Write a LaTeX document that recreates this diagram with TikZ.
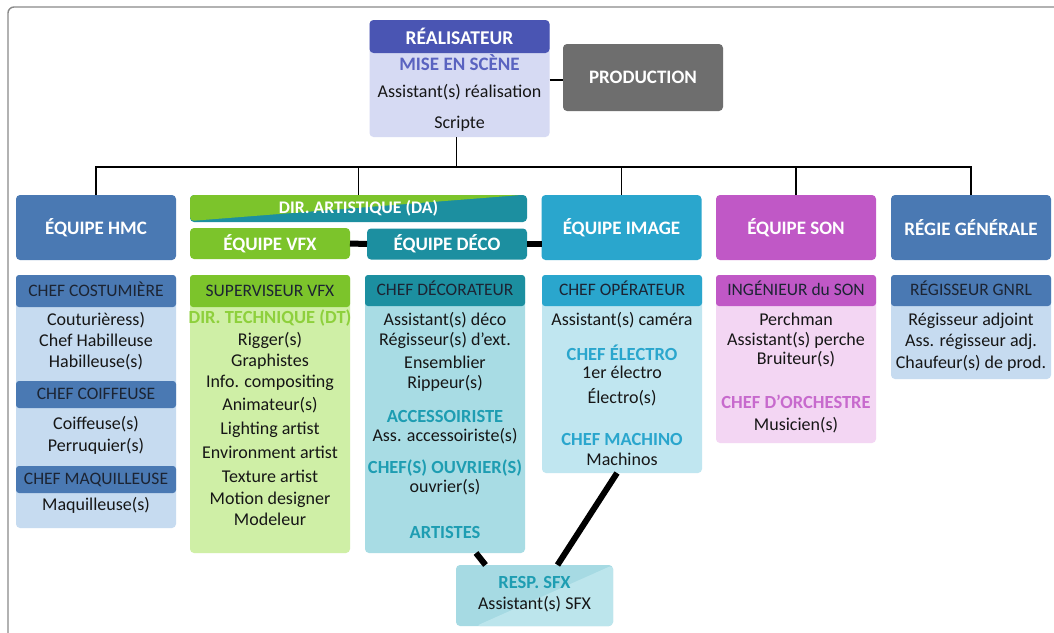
\documentclass[tikz,border=0pt]{standalone}
\usepackage{fontspec}
\setmainfont{Carlito}
\definecolor{realhead}{HTML}{4A55B3}
\definecolor{realbody}{HTML}{D6DAF3}
\definecolor{realtxt}{HTML}{5A63C0}
\definecolor{prodgray}{HTML}{6E6E6E}
\definecolor{hmcblue}{HTML}{4A79B3}
\definecolor{hmclight}{HTML}{C6DBF0}
\definecolor{vfxgreen}{HTML}{7CC42B}
\definecolor{vfxlight}{HTML}{CFEFA6}
\definecolor{vfxtxt}{HTML}{8ED03C}
\definecolor{decoteal}{HTML}{1C8FA0}
\definecolor{decolight}{HTML}{A8DCE4}
\definecolor{decotxt}{HTML}{1E9DB2}
\definecolor{imgcyan}{HTML}{2AA6CD}
\definecolor{imglight}{HTML}{C0E6F0}
\definecolor{sonmag}{HTML}{C058C6}
\definecolor{sonlight}{HTML}{F3D6F3}
\definecolor{sontxt}{HTML}{C76ACD}
\definecolor{sfxdark}{HTML}{A6DAE3}
\definecolor{sfxlight}{HTML}{BCE5EC}
\definecolor{headtxt}{HTML}{1C2433}
\definecolor{bodytxt}{HTML}{161616}
\definecolor{framegray}{HTML}{8A8A8A}
\tikzset{
  every node/.style={inner sep=0pt, outer sep=0pt},
  team/.style={rounded corners=4pt, minimum width=160, minimum height=65,
    text=white, font=\fontsize{19}{21}\selectfont\bfseries},
  teamsmall/.style={team, minimum height=31},
  panel/.style={rounded corners=4pt, minimum width=160, anchor=north},
  colhead/.style={rounded corners=3pt, minimum width=160, text=headtxt,
    font=\fontsize{17.5}{19}\selectfont, text height=12.5pt, text depth=2pt},
  ln/.style={text=bodytxt, font=\fontsize{18}{20}\selectfont,
    text height=12.5pt, text depth=1.5pt},
  sub/.style={ln, font=\fontsize{18.5}{20}\selectfont\bfseries},
  link/.style={line width=1.6pt, draw=black},
  fatlink/.style={line width=6pt, draw=black}
}
\begin{document}
\begin{tikzpicture}[x=1pt,y=-1pt]
\useasboundingbox (0,0) rectangle (1054,632);
\fill[white] (0,0) rectangle (1054,632);
% outer frame
\draw[framegray, line width=1.4pt, rounded corners=6pt] (8,640) -- (8,7) -- (1060,7);

% ---------- direction ----------
\node[panel, fill=realbody, minimum width=180, minimum height=117] (real) at (459.5,20) {};
\node[rounded corners=4pt, fill=realhead, minimum width=180, minimum height=33, anchor=north,
  text=white, font=\fontsize{19.5}{21}\selectfont\bfseries] (realh) at (459.5,20) {RÉALISATEUR};
\node[sub, text=realtxt, font=\fontsize{19}{21}\selectfont\bfseries] (mise) at (459.5,65) {MISE EN SCÈNE};
\node[ln] (assr) at (459.5,92) {Assistant(s) réalisation};
\node[ln] (scr) at (459.5,123) {Scripte};
\node[rounded corners=4pt, fill=prodgray, minimum width=160, minimum height=67,
  text=white, font=\fontsize{19}{21}\selectfont\bfseries] (prod) at (643,77.5) {PRODUCTION};
\path (prod.west) ++(0,2.5) coordinate (pj);
\draw[link] (pj -| real.east) -- (pj);

% ---------- team boxes ----------
\node[team, fill=hmcblue] (hmc) at (96,227.5) {ÉQUIPE HMC};
\node[team, fill=imgcyan] (img) at (621.5,227.5) {ÉQUIPE IMAGE};
\node[team, fill=sonmag] (son) at (796,227.5) {ÉQUIPE SON};
\node[team, fill=hmcblue] (reg) at (971,227.5) {RÉGIE GÉNÉRALE};
\node[rounded corners=4pt, fill=decoteal, minimum width=337, minimum height=27,
  text=white, font=\fontsize{17.7}{19}\selectfont\bfseries,
  path picture={\fill[vfxgreen] (path picture bounding box.north west)
     -- ([xshift=-6pt]path picture bounding box.north east)
     -- ([yshift=1pt]path picture bounding box.south west) -- cycle;}]
  (da) at (358.5,208.5) {DIR. ARTISTIQUE (DA)};
\node[teamsmall, fill=vfxgreen] (vfx) at (270,243.5) {ÉQUIPE VFX};
\node[teamsmall, fill=decoteal] (deco) at (447,244) {ÉQUIPE DÉCO};

% ---------- hierarchy lines ----------
\coordinate (bus) at (0,167);
\draw[link] ([xshift=-3pt]real.south) -- ([xshift=-3pt]real.south |- bus);
\draw[link] (hmc.north) |- (reg.north |- bus) -- (reg.north);
\draw[link] (da.north) -- (da.north |- bus);
\draw[link] (img.north) -- (img.north |- bus);
\draw[link] (son.north) -- (son.north |- bus);
\draw[fatlink] (vfx.east) -- (deco.west);
\draw[fatlink] (deco.east) -- (deco.east -| img.west);

% ---------- HMC column ----------
\node[panel, fill=hmclight, minimum height=253] (hmcp) at (96,275) {};
\node[colhead, fill=hmcblue, minimum height=32] (hmch1) at (96,291) {CHEF COSTUMIÈRE};
\node[colhead, fill=hmcblue, minimum height=27] (hmch2) at (96,394.5) {CHEF COIFFEUSE};
\node[colhead, fill=hmcblue, minimum height=27] (hmch3) at (96,479.5) {CHEF MAQUILLEUSE};
\foreach \t/\y [count=\i] in {Couturièress)/320, Chef Habilleuse/341, Habilleuse(s)/362,
    Coiffeuse(s)/424, Perruquier(s)/446, Maquilleuse(s)/505}
  \node[ln] (hmcl\i) at (96,\y) {\t};

% ---------- VFX column ----------
\node[panel, fill=vfxlight, minimum height=278] (vfxp) at (270,275) {};
\node[colhead, fill=vfxgreen, minimum height=32] (vfxh) at (270,291) {SUPERVISEUR VFX};
\node[sub, text=vfxtxt] (dt) at (270,318) {DIR. TECHNIQUE (DT)};
\foreach \t/\y [count=\i] in {Rigger(s)/340, Graphistes/361, Info. compositing/382,
    Animateur(s)/405, Lighting artist/429, Environment artist/453, Texture artist/477,
    Motion designer/499, Modeleur/520}
  \node[ln] (vfxl\i) at (270,\y) {\t};

% ---------- DECO column ----------
\node[panel, fill=decolight, minimum height=278] (decop) at (445,275) {};
\node[colhead, fill=decoteal, minimum height=31] (decoh) at (445,290.5) {CHEF DÉCORATEUR};
\foreach \t/\y [count=\i] in {Assistant(s) déco/320, Régisseur(s) d’ext./340,
    Ensemblier/363, Rippeur(s)/383, Ass. accessoiriste(s)/436, ouvrier(s)/487}
  \node[ln] (decol\i) at (445,\y) {\t};
\node[sub, text=decotxt] (acc) at (445,417) {ACCESSOIRISTE};
\node[sub, text=decotxt] (ouv) at (445,468) {CHEF(S) OUVRIER(S)};
\node[sub, text=decotxt] (art) at (445,533) {ARTISTES};

% ---------- IMAGE column ----------
\node[panel, fill=imglight, minimum height=198] (imgp) at (622,275) {};
\node[colhead, fill=imgcyan, minimum height=31] (imgh) at (622,290.5) {CHEF OPÉRATEUR};
\node[ln] (cam) at (622,320) {Assistant(s) caméra};
\node[sub, text=imgcyan] (elec) at (622,355) {CHEF ÉLECTRO};
\node[ln] (elec1) at (622,373) {1er électro};
\node[ln] (elec2) at (622,398) {Électro(s)};
\node[sub, text=imgcyan] (mach) at (622,440) {CHEF MACHINO};
\node[ln] (mach1) at (622,460) {Machinos};

% ---------- SON column ----------
\node[panel, fill=sonlight, minimum height=168] (sonp) at (796,275) {};
\node[colhead, fill=sonmag, minimum height=31] (sonh) at (796,290.5) {INGÉNIEUR du SON};
\foreach \t/\y [count=\i] in {Perchman/320, Assistant(s) perche/340, Bruiteur(s)/359,
    Musicien(s)/425}
  \node[ln] (sonl\i) at (796,\y) {\t};
\node[sub, text=sontxt] (orch) at (796,403) {CHEF D’ORCHESTRE};

% ---------- REGIE column ----------
\node[panel, fill=hmclight, minimum height=104] (regp) at (971,275) {};
\node[colhead, fill=hmcblue, minimum height=31] (regh) at (971,290.5) {RÉGISSEUR GNRL};
\foreach \t/\y [count=\i] in {Régisseur adjoint/320, Ass. régisseur adj./341,
    Chaufeur(s) de prod./363}
  \node[ln] (regl\i) at (971,\y) {\t};

% ---------- special effects ----------
\node[rounded corners=4pt, fill=sfxdark, minimum width=157, minimum height=61,
  path picture={\fill[sfxlight] ([xshift=20pt]path picture bounding box.south west)
     -- (path picture bounding box.north east)
     -- (path picture bounding box.south east) -- cycle;}]
  (sfx) at (534.5,595.5) {};
\node[sub, text=decotxt] (sfxh) at (534.5,583) {RESP. SFX};
\node[ln] (sfxl) at (534.5,604) {Assistant(s) SFX};
\draw[fatlink] ([xshift=31pt]decop.south) -- ([xshift=-49pt]sfx.north);
\draw[fatlink] ([xshift=-5pt]imgp.south) -- ([xshift=23pt]sfx.north);
\end{tikzpicture}
\end{document}
